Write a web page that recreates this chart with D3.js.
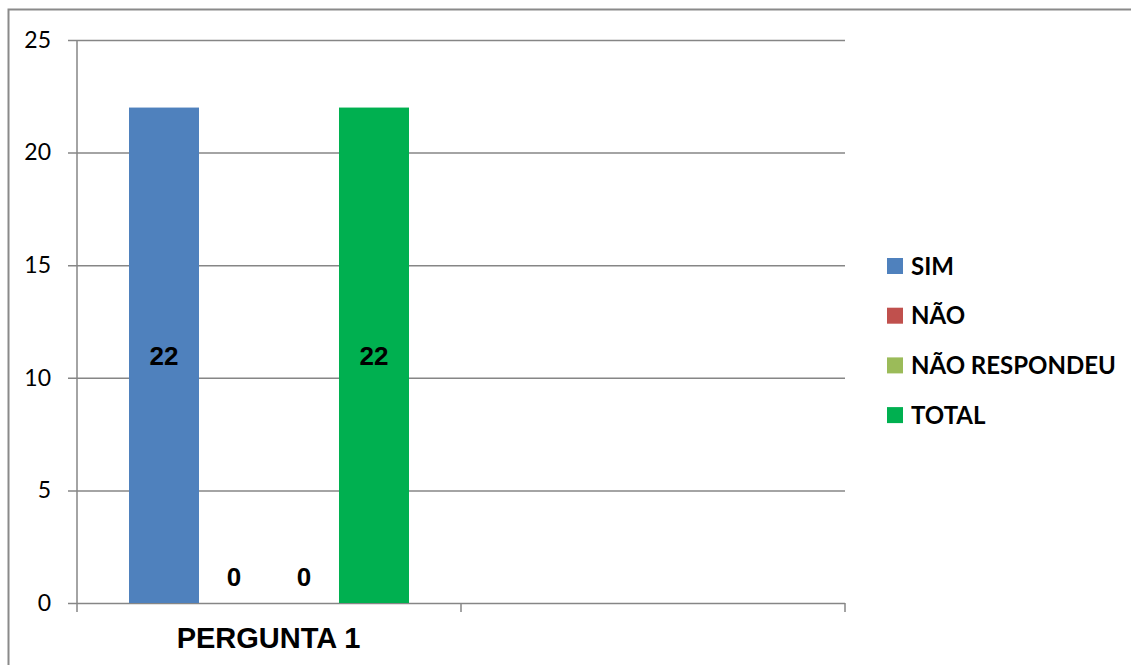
<!DOCTYPE html>
<html>
<head>
<meta charset="utf-8">
<script src="https://cdn.jsdelivr.net/npm/d3@7"></script>
<style>
  html, body { margin: 0; padding: 0; background: #fff; }
  svg { display: block; }
</style>
</head>
<body>
<svg id="chart" width="1131" height="665"></svg>
<script>
// Categories on the x axis (second slot is left empty)
const categories = ["PERGUNTA 1", ""];
// Series names and values for PERGUNTA 1
const seriesNames = ["SIM", "NÃO", "NÃO RESPONDEU", "TOTAL"];
const seriesValues = [22, 0, 0, 22];
const seriesColors = ["#4F81BD", "#C0504D", "#9BBB59", "#00B050"];
// Y axis ticks
const yTicks = [0, 5, 10, 15, 20, 25];

const svg = d3.select("#chart");
const plot = { left: 77, right: 845, top: 40, bottom: 603 };
const gridColor = "#868686";

// outer frame
svg.append("rect")
  .attr("x", 8.5).attr("y", 9.5)
  .attr("width", 1200).attr("height", 700)
  .attr("fill", "none").attr("stroke", "#8a8a8a").attr("stroke-width", 2);

const y = d3.scaleLinear().domain([0, 25]).range([plot.bottom, plot.top]);
const x0 = d3.scaleBand().domain(categories).range([plot.left, plot.right]).padding(0);
const x1 = d3.scaleBand().domain(seriesNames).range([0, x0.bandwidth()])
  .paddingInner(0).paddingOuter(0.743);

// horizontal gridlines + tick labels via axis
const yAxis = d3.axisLeft(y).tickValues(yTicks).tickSize(plot.right - plot.left + 9).tickPadding(17);
const gy = svg.append("g")
  .attr("transform", `translate(${plot.right},0)`)
  .call(yAxis);
gy.select(".domain").remove();
gy.selectAll(".tick line").attr("stroke", gridColor).attr("stroke-width", 1.5);
gy.selectAll(".tick text")
  .attr("font-family", "Lato, sans-serif")
  .attr("font-size", 23)
  .attr("fill", "#000");

// left axis line
svg.append("line")
  .attr("x1", plot.left).attr("x2", plot.left)
  .attr("y1", plot.top).attr("y2", plot.bottom)
  .attr("stroke", gridColor).attr("stroke-width", 1.5);

// category boundary ticks below the baseline
const boundaries = [plot.left].concat(categories.map(c => x0(c) + x0.bandwidth()));
svg.append("g").selectAll("line").data(boundaries).join("line")
  .attr("x1", d => d).attr("x2", d => d)
  .attr("y1", plot.bottom).attr("y2", plot.bottom + 9)
  .attr("stroke", gridColor).attr("stroke-width", 1.5);

// bars
const data = seriesNames.map((s, i) => ({ name: s, value: seriesValues[i], color: seriesColors[i] }));
const group = svg.append("g").attr("transform", `translate(${x0(categories[0])},0)`);
group.selectAll("rect").data(data).join("rect")
  .attr("x", d => x1(d.name))
  .attr("y", d => y(d.value))
  .attr("width", x1.bandwidth())
  .attr("height", d => y(0) - y(d.value))
  .attr("fill", d => d.color);

// value labels
group.selectAll("text").data(data).join("text")
  .attr("x", d => x1(d.name) + x1.bandwidth() / 2)
  .attr("y", d => d.value > 0 ? y(d.value / 2) : y(0) - 26)
  .attr("dy", "0.36em")
  .attr("text-anchor", "middle")
  .attr("font-family", "Liberation Sans, Arial, sans-serif")
  .attr("font-weight", "bold")
  .attr("font-size", 26)
  .attr("fill", "#000")
  .text(d => d.value);

// category label
svg.append("text")
  .attr("x", x0(categories[0]) + x0.bandwidth() / 2 - 0.5)
  .attr("y", 648)
  .attr("text-anchor", "middle")
  .attr("font-family", "Liberation Sans, Arial, sans-serif")
  .attr("font-weight", "bold")
  .attr("font-size", 29)
  .attr("fill", "#000")
  .text(categories[0]);

// legend
const legend = svg.append("g").attr("transform", "translate(887,266)");
const items = legend.selectAll("g").data(data).join("g")
  .attr("transform", (d, i) => `translate(0,${i * 49.7})`);
items.append("rect")
  .attr("x", 0).attr("y", -8)
  .attr("width", 16).attr("height", 16)
  .attr("fill", d => d.color);
items.append("text")
  .attr("x", 24).attr("y", 0)
  .attr("dy", "0.36em")
  .attr("font-family", "Lato, sans-serif")
  .attr("font-weight", "bold")
  .attr("font-size", 24)
  .attr("fill", "#000")
  .text(d => d.name);
</script>
</body>
</html>
